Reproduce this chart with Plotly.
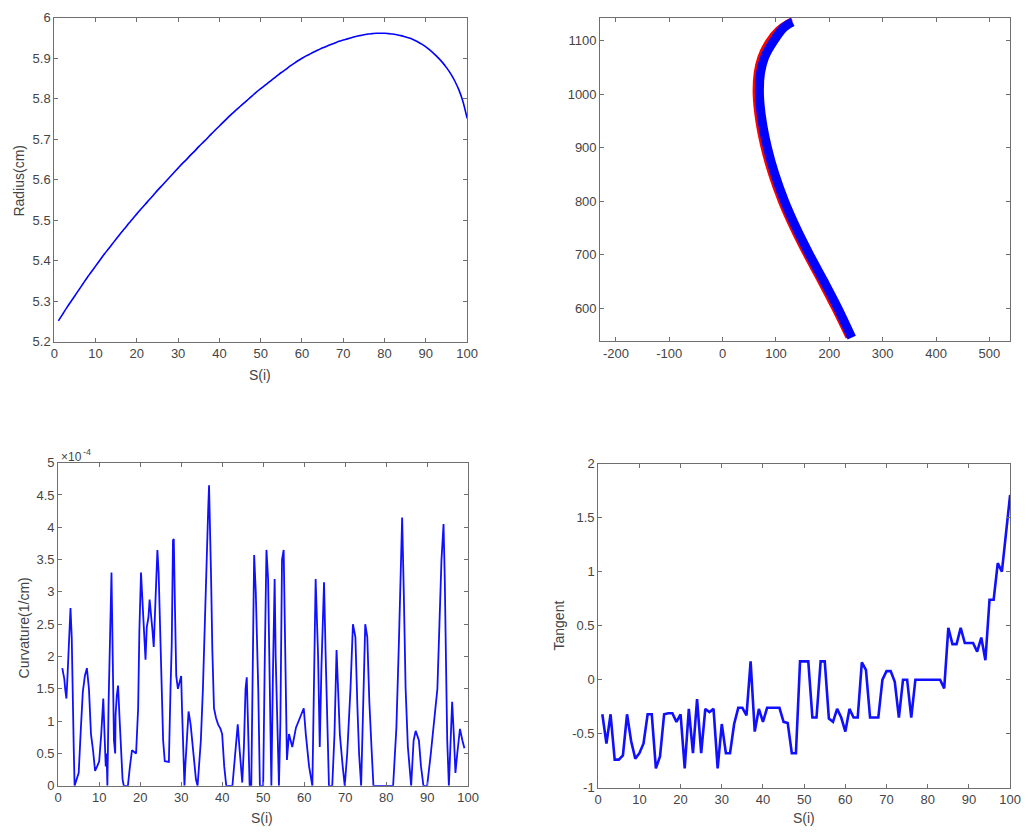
import plotly.graph_objects as go

W, H = 1029, 837

# ---- data -------------------------------------------------------------
s_idx = list(range(1, 101))

radius_cm = [
    5.252, 5.268, 5.284, 5.299, 5.314, 5.329, 5.344, 5.359, 5.373, 5.387,
    5.401, 5.415, 5.428, 5.441, 5.454, 5.467, 5.479, 5.492, 5.504, 5.516,
    5.528, 5.539, 5.551, 5.562, 5.574, 5.585, 5.596, 5.607, 5.618, 5.629,
    5.640, 5.650, 5.661, 5.671, 5.682, 5.692, 5.702, 5.713, 5.723, 5.733,
    5.743, 5.753, 5.763, 5.772, 5.781, 5.790, 5.799, 5.808, 5.817, 5.825,
    5.833, 5.841, 5.849, 5.857, 5.865, 5.872, 5.880, 5.887, 5.894, 5.900,
    5.906, 5.911, 5.916, 5.921, 5.926, 5.930, 5.934, 5.938, 5.942, 5.945,
    5.948, 5.951, 5.954, 5.956, 5.958, 5.960, 5.961, 5.962, 5.962, 5.962,
    5.961, 5.960, 5.958, 5.956, 5.953, 5.950, 5.946, 5.941, 5.935, 5.928,
    5.920, 5.911, 5.901, 5.890, 5.877, 5.862, 5.844, 5.822, 5.793, 5.752,
]

# centreline (red) and fitted profile (blue) in the x-y plane
profile_red_x = [234, 207, 181, 154, 129, 107, 89, 75, 65, 60, 62, 69, 84, 102, 120, 130]
profile_red_y = [545, 600, 650, 700, 750, 800, 850, 900, 950, 1000, 1040, 1070, 1100, 1122, 1135, 1140]
profile_blue_x = [242, 216, 190, 163, 138, 116, 98, 84, 74, 69, 71, 79, 96, 115, 131]
profile_blue_y = [545, 600, 650, 700, 750, 800, 850, 900, 950, 1000, 1040, 1070, 1100, 1125, 1135]

# curvature, in units of 1e-4 1/cm
curv_s = [
    1, 1.5, 1.7, 2, 2.2, 2.5, 2.8, 3, 3.3, 3.5, 3.8, 4, 4.5, 5, 5.5, 6, 6.5, 7,
    7.5, 8, 8.5, 9, 9.5, 10, 10.5, 10.8, 11, 11.3, 11.6, 11.8, 12, 12.3, 12.7,
    13, 13.3, 13.6, 13.9, 14, 14.3, 14.6, 15, 15.3, 15.7, 16, 17, 17.5, 18, 19,
    19.5, 19.8, 20, 20.2, 20.6, 21, 21.3, 21.6, 22, 22.3, 22.7, 23, 23.3, 23.6,
    24, 24.2, 24.5, 24.9, 25.3, 25.6, 26, 27, 27.4, 27.7, 28, 28.2, 28.5, 28.8,
    29.2, 29.6, 30, 30.2, 30.5, 30.8, 31, 31.4, 31.8, 32.3, 32.8, 33.2, 33.6,
    34, 34.4, 34.8, 35.3, 35.7, 36, 36.3, 36.6, 36.8, 37.1, 37.3, 37.6, 38,
    38.5, 39, 39.6, 40, 40.5, 41, 42.5, 43, 43.4, 43.8, 44.2, 44.6, 44.9, 45.3,
    45.7, 46, 46.3, 46.7, 47.1, 47.4, 47.8, 48.2, 48.8, 49.2, 50, 50.4, 50.8,
    51.2, 51.6, 52.0, 52.4, 52.8, 53.05, 53.45, 53.85, 54.2, 54.6, 55.0, 55.4,
    55.8, 56.3, 57.1, 58.0, 59.9, 60.4, 61.2, 62.0, 62.4, 62.8, 63.4, 63.8,
    64.2, 64.85, 65.25, 65.65, 66.05, 66.85, 67.4, 67.9, 68.3, 68.7, 69.4,
    69.9, 70.5, 71.3, 71.9, 72.5, 73.0, 73.4, 73.9, 74.3, 74.9, 75.4, 75.9,
    76.5, 76.9, 81.7, 82.5, 83.1, 83.5, 83.9, 84.3, 84.75, 85.3, 86.1, 86.7,
    87.2, 88.0, 88.5, 89.1, 90.0, 90.9, 91.7, 92.5, 93.0, 93.5, 94.0, 94.3,
    94.7, 94.9, 95.3, 95.7, 96.1, 96.5, 96.9, 97.35, 98.0, 98.6, 99.1,
]
curvature_e4 = [
    1.82, 1.65, 1.5, 1.35, 1.6, 2.1, 2.6, 2.75, 2.3, 1.2, 0.55, 0.0, 0.1, 0.2,
    0.85, 1.45, 1.7, 1.82, 1.5, 0.8, 0.55, 0.23, 0.3, 0.38, 0.8, 1.25, 1.35,
    0.8, 0.3, 0.5, 0.0, 1.3, 2.6, 3.3, 2.0, 0.7, 0.5, 1.1, 1.4, 1.55, 1.0,
    0.5, 0.1, 0.0, 0.0, 0.3, 0.55, 0.5, 1.2, 2.4, 3.1, 3.3, 2.8, 2.4, 1.95,
    2.45, 2.6, 2.88, 2.65, 2.4, 2.15, 2.75, 3.3, 3.65, 3.3, 2.2, 1.5, 0.7,
    0.38, 0.37, 1.5, 2.2, 3.8, 3.82, 2.7, 1.7, 1.5, 1.6, 1.7, 1.2, 0.5, 0.0,
    0.3, 0.8, 1.15, 0.95, 0.65, 0.3, 0.1, 0.0, 0.3, 0.7, 1.5, 2.4, 3.3, 4.0,
    4.3, 4.65, 4.0, 3.2, 2.1, 1.2, 1.05, 0.95, 0.88, 0.8, 0.3, 0.0, 0.0, 0.4,
    0.75, 0.95, 0.6, 0.3, 0.05, 0.6, 1.5, 1.68, 0.9, 0.0, 0.0, 2.0, 3.57, 3.0,
    1.5, 0.0, 0.0, 2.0, 3.65, 3.2, 1.3, 0.0, 1.8, 3.2, 2.0, 1.0, 0.0, 1.0,
    3.5, 3.65, 2.2, 0.4, 0.8, 0.6, 0.9, 1.2, 0.8, 0.3, 0.0, 1.5, 3.2, 2.0,
    0.6, 1.8, 3.15, 2.0, 0.8, 0.0, 0.0, 0.8, 2.1, 1.5, 0.8, 0.3, 0.0, 0.5,
    1.5, 2.5, 2.3, 1.2, 0.5, 0.0, 1.2, 2.5, 2.3, 1.3, 0.5, 0.0, 0.0, 0.9, 2.2,
    3.3, 4.15, 3.0, 1.5, 0.6, 0.0, 0.7, 0.85, 0.7, 0.3, 0.0, 0.0, 0.5, 1.0,
    1.5, 2.5, 3.5, 4.05, 3.2, 1.5, 0.7, 0.0, 0.8, 1.3, 0.8, 0.2, 0.5, 0.88,
    0.7, 0.58,
]

tangent = [
    -0.32, -0.59, -0.32, -0.74, -0.74, -0.70, -0.32, -0.57, -0.73, -0.68,
    -0.59, -0.32, -0.32, -0.82, -0.71, -0.32, -0.31, -0.31, -0.39, -0.32,
    -0.82, -0.27, -0.68, -0.18, -0.68, -0.27, -0.30, -0.27, -0.82, -0.41,
    -0.68, -0.68, -0.41, -0.26, -0.26, -0.33, 0.17, -0.48, -0.27, -0.39,
    -0.26, -0.26, -0.26, -0.26, -0.39, -0.40, -0.68, -0.68, 0.17, 0.17,
    0.17, -0.35, -0.35, 0.17, 0.17, -0.36, -0.39, -0.27, -0.35, -0.48,
    -0.27, -0.35, -0.35, 0.16, 0.09, -0.35, -0.35, -0.35, 0.00, 0.08,
    0.08, -0.02, -0.35, 0.00, 0.00, -0.35, 0.00, 0.00, 0.00, 0.00,
    0.00, 0.00, 0.00, -0.08, 0.48, 0.33, 0.33, 0.48, 0.34, 0.34,
    0.34, 0.26, 0.39, 0.18, 0.74, 0.74, 1.08, 1.00, 1.39, 1.71,
]

# ---- styling helpers ---------------------------------------------------
AX_LINE = "#6f6f6f"
TXT = "#444444"
FONT = "Liberation Sans, Arial, sans-serif"


def px_x(a, b):
    return [a / W, b / W]


def px_y(top, bottom):
    return [1 - bottom / H, 1 - top / H]


def axis_style(**kw):
    base = dict(
        showline=True, linecolor=AX_LINE, linewidth=1, mirror="ticks",
        ticks="inside", ticklen=4, tickcolor=AX_LINE, tickwidth=1,
        showgrid=False, zeroline=False,
        tickfont=dict(family=FONT, size=13, color=TXT),
    )
    base.update(kw)
    return base


def fmt(v):
    return "%g" % v


fig = go.Figure()

# panel 1: radius
fig.add_trace(go.Scatter(x=s_idx, y=radius_cm, mode="lines",
                         line=dict(color="#0000ff", width=1.6, shape="spline", smoothing=0.6),
                         xaxis="x", yaxis="y", showlegend=False))

# panel 2: profile
fig.add_trace(go.Scatter(x=profile_red_x, y=profile_red_y, mode="lines",
                         line=dict(color="#ff0000", width=4, shape="spline"),
                         xaxis="x2", yaxis="y2", showlegend=False))
fig.add_trace(go.Scatter(x=profile_blue_x, y=profile_blue_y, mode="lines",
                         line=dict(color="#0000ff", width=9, shape="spline"),
                         xaxis="x2", yaxis="y2", showlegend=False))

# panel 3: curvature
fig.add_trace(go.Scatter(x=curv_s, y=curvature_e4, mode="lines",
                         line=dict(color="#1010ff", width=1.8),
                         xaxis="x3", yaxis="y3", showlegend=False))

# panel 4: tangent
fig.add_trace(go.Scatter(x=s_idx, y=tangent, mode="lines",
                         line=dict(color="#1010ff", width=2.6),
                         xaxis="x4", yaxis="y4", showlegend=False))

t1x = list(range(0, 101, 10))
r_ticks = [5.2, 5.3, 5.4, 5.5, 5.6, 5.7, 5.8, 5.9, 6.0]
p2x = [-200, -100, 0, 100, 200, 300, 400, 500]
p2y = [600, 700, 800, 900, 1000, 1100]
c_ticks = [0, 0.5, 1, 1.5, 2, 2.5, 3, 3.5, 4, 4.5, 5]
t_ticks = [-1, -0.5, 0, 0.5, 1, 1.5, 2]

fig.update_layout(
    width=W, height=H,
    margin=dict(l=0, r=0, t=0, b=0),
    paper_bgcolor="white", plot_bgcolor="white",
    font=dict(family=FONT, color=TXT),
    xaxis=axis_style(domain=px_x(51, 470), range=[0, 100], anchor="y",
                     tickvals=t1x, ticktext=[fmt(v) for v in t1x]),
    yaxis=axis_style(domain=px_y(11, 341), range=[5.2, 6.0], anchor="x",
                     tickvals=r_ticks, ticktext=[fmt(v) for v in r_ticks]),
    xaxis2=axis_style(domain=px_x(605, 1021), range=[-229.5, 538.8], anchor="y2",
                      tickvals=p2x, ticktext=[fmt(v) for v in p2x]),
    yaxis2=axis_style(domain=px_y(11, 340), range=[538.8, 1143], anchor="x2",
                      tickvals=p2y, ticktext=[fmt(v) for v in p2y]),
    xaxis3=axis_style(domain=px_x(55, 471), range=[0, 100], anchor="y3",
                      tickvals=t1x, ticktext=[fmt(v) for v in t1x]),
    yaxis3=axis_style(domain=px_y(464, 793), range=[0, 5], anchor="x3",
                      tickvals=c_ticks, ticktext=[fmt(v) for v in c_ticks]),
    xaxis4=axis_style(domain=px_x(603, 1021), range=[0, 100], anchor="y4",
                      tickvals=t1x, ticktext=[fmt(v) for v in t1x]),
    yaxis4=axis_style(domain=px_y(465, 795), range=[-1, 2], anchor="x4",
                      tickvals=t_ticks, ticktext=[fmt(v) for v in t_ticks]),
)


def label(text, x, y, angle=0, size=14, anchor="center"):
    fig.add_annotation(text=text, x=x / W, y=1 - y / H, xref="paper", yref="paper",
                       showarrow=False, textangle=angle,
                       font=dict(family=FONT, size=size, color=TXT),
                       xanchor=anchor, yanchor="middle")


label("Radius(cm)", 15, 177, angle=-90)
label("S(i)", 260, 375)
label("Curvature(1/cm)", 20, 632, angle=-90)
label("S(i)", 262, 826)
label("Tangent", 563, 630, angle=-90)
label("S(i)", 812, 826)
# axis multiplier for the curvature panel
label("×10", 56, 458, size=12, anchor="left")
label("-4", 78, 453, size=9, anchor="left")

fig.write_html("out.html")
